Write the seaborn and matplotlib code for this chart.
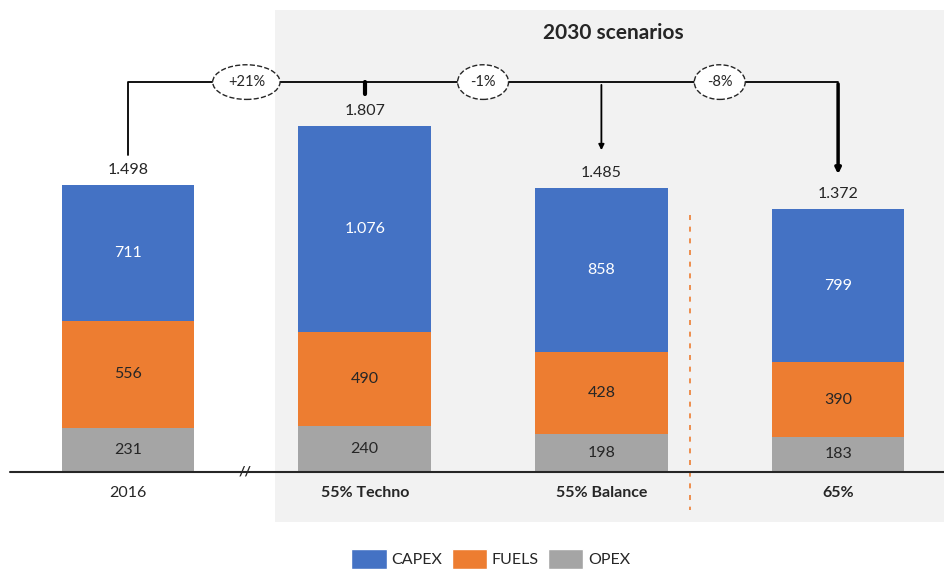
import pandas as pd
import matplotlib.pyplot as plt
import seaborn as sns
from matplotlib.patches import Patch, Rectangle

# Data
categories = ["2016", "55% Techno", "55% Balance", "65%"]
capex = [711, 1076, 858, 799]
fuels = [556, 490, 428, 390]
opex = [231, 240, 198, 183]
totals = [1498, 1807, 1485, 1372]
changes = ["+21%", "-1%", "-8%"]

c_capex = "#4472C4"
c_fuels = "#ED7D31"
c_opex = "#A5A5A5"

def fmt(v):
    # european thousand separator
    return f"{v:,}".replace(",", ".")

df = pd.DataFrame({"cat": categories, "CAPEX": capex, "FUELS": fuels, "OPEX": opex})
df["top_fuels"] = df["OPEX"] + df["FUELS"]
df["top_capex"] = df["top_fuels"] + df["CAPEX"]

sns.set_style("white")
plt.rcParams['font.family'] = ['Lato', 'DejaVu Sans']

fig = plt.figure(figsize=(9.44, 5.71), dpi=100)
ax = fig.add_axes([0, 0, 1, 1])

# stacked bars by overlaying cumulative heights
for col, colr in [("top_capex", c_capex), ("top_fuels", c_fuels), ("OPEX", c_opex)]:
    sns.barplot(data=df, x="cat", y=col, color=colr, width=0.56, ax=ax, saturation=1,
                linewidth=0, edgecolor="none", zorder=3)

# pixel mapping: bar spacing ~236.7px, baseline at 472px, 0.1916 px/unit
ax.set_xlim(-128 / 236.7, (944 - 128) / 236.7)
ax.set_ylim(-99 / 0.1916, 472 / 0.1916)
ax.axis("off")

# grey panel for the 2030 scenarios
ax.add_patch(Rectangle((0.621, -261), 5, 2672, fc="#F2F2F2", ec="none", zorder=0))
ax.text(2.05, 2290, "2030 scenarios", ha="center", va="center", fontsize=15, fontweight="bold", color="#262626")

# baseline with break
ax.plot([-0.5, 3.5], [0, 0], color="#262626", lw=1.5, zorder=4)
ax.text(0.495, 0, "//", ha="center", va="center", fontsize=10, fontweight="bold", color="#262626", zorder=5)

for i in range(len(categories)):
    o, f, c = opex[i], fuels[i], capex[i]
    ax.text(i, o / 2, fmt(o), ha="center", va="center", fontsize=11.5, color="#262626", zorder=5)
    ax.text(i, o + f / 2, fmt(f), ha="center", va="center", fontsize=11.5, color="#262626", zorder=5)
    ax.text(i, o + f + c / 2, fmt(c), ha="center", va="center", fontsize=11.5, color="white", zorder=5)
    ax.text(i, o + f + c + 40, fmt(totals[i]), ha="center", va="bottom",
            fontsize=11.5, color="#262626", zorder=5)
    ax.text(i, -110, categories[i], ha="center", va="center", fontsize=11.5, color="#262626",
            fontweight="normal" if i == 0 else "bold", zorder=5)

# dashed separator
ax.plot([2.374, 2.374], [1341, -198], color=c_fuels, lw=1.2, ls=(0, (3, 4)), zorder=2)

# connector lines
yc = 2035
ax.plot([0, 0, 3], [1655, yc, yc], color="black", lw=1.3, zorder=4)
ax.plot([1, 1], [yc, yc - 60], color="black", lw=3, zorder=4)
ax.annotate("", xy=(2, 1665), xytext=(2, yc),
            arrowprops=dict(arrowstyle="-|>", color="black", lw=1.3, mutation_scale=8), zorder=4)
ax.annotate("", xy=(3, 1540), xytext=(3, yc + 5),
            arrowprops=dict(arrowstyle="-|>", color="black", lw=2.5, mutation_scale=8), zorder=4)

for i, lab in enumerate(changes):
    ax.text(i + 0.5, yc, lab, ha="center", va="center", fontsize=10.5, color="#262626", zorder=6,
            bbox=dict(boxstyle="ellipse,pad=0.36", fc="white", ec="#262626", ls="--", lw=1))

handles = [Patch(fc=c_capex, label="CAPEX"), Patch(fc=c_fuels, label="FUELS"), Patch(fc=c_opex, label="OPEX")]
fig.legend(handles=handles, loc="lower center", bbox_to_anchor=(0.52, -0.022), ncol=3, frameon=False,
           fontsize=11.5, handlelength=2.2, handleheight=1.6, handletextpad=0.3, columnspacing=0.6)

fig.savefig("out.png", dpi=100)
